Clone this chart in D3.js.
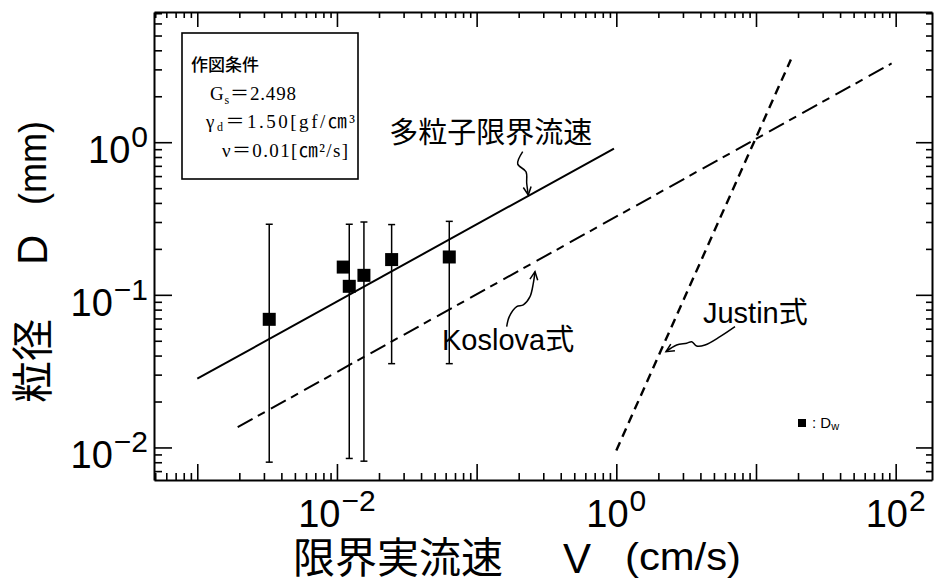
<!DOCTYPE html>
<html>
<head>
<meta charset="utf-8">
<script src="https://cdn.jsdelivr.net/npm/d3@7"></script>
<style>
  body { margin: 0; background: #fff; }
  svg { display: block; }
  text { font-family: "Liberation Sans", "Noto Sans CJK JP", sans-serif; fill: #000; }
  .serif { font-family: "Liberation Serif", "Noto Sans CJK JP", serif; }
  .cjk { font-family: "Noto Sans CJK JP", sans-serif; }
</style>
</head>
<body>
<svg id="chart" width="934" height="583"></svg>
<script>
// ---- measured data: critical velocity V (cm/s) vs grain size Dw (mm) ----
const pointV    = [0.003275, 0.01109, 0.01225, 0.0156, 0.02463, 0.0637];
const pointD    = [0.0691,   0.152,   0.1137,  0.1342, 0.1702,  0.177];
const pointDmax = [0.290,    null,    0.290,   0.300,  0.2886,  0.303];
const pointDmin = [0.00801,  null,    0.00847, 0.00813, 0.0354, 0.0354];

// ---- reference curves (end points, V in cm/s, D in mm) ----
const multiV   = [0.001, 0.962];
const multiD   = [0.0282, 0.909];
const koslovaV = [0.001947, 93.5];
const koslovaD = [0.01358, 3.28];
const justinV  = [1.0, 17.78];
const justinD  = [0.00956, 3.485];

// ---- annotations: label and the point its leader arrow points at ----
const noteText = ["多粒子限界流速", "Koslova式", "Justin式"];
const noteV    = [0.2344, 0.2617, 2.268];
const noteD    = [0.4509, 0.1418, 0.0424];

// ---- axes ----
const xDomain = [0.00049, 182];
const yDomain = [0.00612, 7.13];
const xLabelExp = [-2, 0, 2];
const yLabelExp = [-2, -1, 0];

// ---- conditions box ----
const condTitle = "作図条件";

// ------------------------------------------------------------------
const svg = d3.select("#chart");
const plot = { left: 154, right: 932, top: 12, bottom: 480 };

const x = d3.scaleLog().domain(xDomain).range([plot.left, plot.right]);
const y = d3.scaleLog().domain(yDomain).range([plot.bottom, plot.top]);

const isMajor = v => Math.abs(Math.log10(v) - Math.round(Math.log10(v))) < 1e-9;

// frame: four axes, all ticks pointing inward
function frameAxis(gen, transform, attr, sign, minor, major) {
  const g = svg.append("g").attr("transform", transform)
    .call(gen.tickSize(-minor).tickSizeOuter(0).tickFormat(""));
  g.select(".domain").attr("stroke", "#000").attr("stroke-width", 2);
  g.selectAll(".tick line").attr("stroke", "#000").attr("stroke-width", 1.6)
    .attr(attr, d => sign * (isMajor(d) ? major : minor));
  g.selectAll(".tick text").remove();
  return g;
}
const xt = x.ticks(), yt = y.ticks();
frameAxis(d3.axisBottom(x).tickValues(xt), `translate(0,${plot.bottom})`, "y2", -1, 7, 16);
frameAxis(d3.axisTop(x).tickValues(xt), `translate(0,${plot.top})`, "y2", 1, 6, 15);
frameAxis(d3.axisLeft(y).tickValues(yt), `translate(${plot.left},0)`, "x2", 1, 8, 18);
frameAxis(d3.axisRight(y).tickValues(yt), `translate(${plot.right},0)`, "x2", -1, 6, 16);

// power-of-ten tick labels
function powLabel(sel, exp) {
  sel.append("tspan").attr("font-size", 38).text("10");
  sel.append("tspan").attr("font-size", 30).attr("dy", -16).attr("dx", 1)
    .text(exp < 0 ? "\u2212" + (-exp) : String(exp));
}
xLabelExp.forEach(e => {
  svg.append("text").attr("x", x(Math.pow(10, e))).attr("y", 527)
    .attr("text-anchor", "middle").call(powLabel, e);
});
yLabelExp.forEach(e => {
  svg.append("text").attr("x", 148).attr("y", y(Math.pow(10, e)) + 21)
    .attr("text-anchor", "end").call(powLabel, e);
});

// axis titles
const xTitle = svg.append("g").attr("transform", "translate(293,573)");
xTitle.append("text").attr("class", "cjk").attr("font-size", 42).text("限界実流速");
xTitle.append("text").attr("x", 270).attr("font-size", 42).text("V");
xTitle.append("text").attr("x", 332).attr("y", -3).attr("font-size", 38)
  .attr("textLength", 116).attr("lengthAdjust", "spacingAndGlyphs").text("(cm/s)");

const yTitle = svg.append("g").attr("transform", "translate(48,402) rotate(-90)");
yTitle.append("text").attr("class", "cjk").attr("x", -1).attr("font-size", 42).text("粒径");
yTitle.append("text").attr("x", 137).attr("y", -1).attr("font-size", 42).text("D");
yTitle.append("text").attr("x", 197).attr("y", -2).attr("font-size", 39)
  .attr("textLength", 84).attr("lengthAdjust", "spacingAndGlyphs").text("(mm)");

// curves
const line = d3.line().x(p => x(p[0])).y(p => y(p[1]));
svg.append("path").attr("d", line(d3.zip(multiV, multiD)))
  .attr("fill", "none").attr("stroke", "#000").attr("stroke-width", 2);
svg.append("path").attr("d", line(d3.zip(koslovaV, koslovaD)))
  .attr("fill", "none").attr("stroke", "#000").attr("stroke-width", 2)
  .attr("stroke-dasharray", "17,6,8,7");
svg.append("path").attr("d", line(d3.zip(justinV, justinD)))
  .attr("fill", "none").attr("stroke", "#000").attr("stroke-width", 2.4)
  .attr("stroke-dasharray", "9,6");

// error bars
const bars = svg.append("g").attr("stroke", "#000").attr("stroke-width", 1.5);
pointV.forEach((v, i) => {
  if (pointDmax[i] == null) return;
  const cx = x(v), y1 = y(pointDmax[i]), y0 = y(pointDmin[i]);
  bars.append("line").attr("x1", cx).attr("x2", cx).attr("y1", y1).attr("y2", y0);
  bars.append("line").attr("x1", cx - 3.5).attr("x2", cx + 3.5).attr("y1", y1).attr("y2", y1);
  bars.append("line").attr("x1", cx - 3.5).attr("x2", cx + 3.5).attr("y1", y0).attr("y2", y0);
});

// data squares
svg.append("g").selectAll("rect").data(d3.zip(pointV, pointD)).join("rect")
  .attr("x", d => x(d[0]) - 6.5).attr("y", d => y(d[1]) - 6.5)
  .attr("width", 13).attr("height", 13).attr("fill", "#000");

// hand-drawn style leader arrows and labels
const leaderShapes = [
  [[-5.6, -43.3], [-10.6, -31], [-2.3, -23.3], [-1.6, -11.7], [0, 0]],
  [[-28.3, 55], [-25.7, 45], [-18.3, 35], [-11.7, 33.3], [-5, 25], [-1.7, 11.7], [0, 0]],
  [[69, -25], [54, -15], [39, -6.7], [30.7, -5.7], [25.7, -10], [20.7, -8.4], [10.7, -6.7], [0, 0]]
];
const labelOffsets = [[-139, -52], [-93, 78], [37, -29]];
const curvy = d3.line().curve(d3.curveCatmullRom.alpha(0.5));
noteText.forEach((t, i) => {
  const tx = x(noteV[i]), ty = y(noteD[i]);
  const pts = leaderShapes[i].map(p => [tx + p[0], ty + p[1]]);
  svg.append("path").attr("d", curvy(pts)).attr("fill", "none")
    .attr("stroke", "#000").attr("stroke-width", 1.5);
  const prev = pts[pts.length - 2];
  const ang = Math.atan2(prev[1] - ty, prev[0] - tx);
  const arm = a => [tx + 9 * Math.cos(ang + a), ty + 9 * Math.sin(ang + a)];
  const a1 = arm(0.45), a2 = arm(-0.45);
  svg.append("path").attr("d", `M${a1[0]},${a1[1]}L${tx},${ty}L${a2[0]},${a2[1]}`)
    .attr("fill", "none").attr("stroke", "#000").attr("stroke-width", 1.5);
  svg.append("text").attr("x", tx + labelOffsets[i][0]).attr("y", ty + labelOffsets[i][1])
    .attr("font-size", 29).text(t);
});

// conditions box
const box = svg.append("g").attr("transform", `translate(${plot.left + 28},${plot.top + 21})`);
box.append("rect").attr("width", 176).attr("height", 146)
  .attr("fill", "#fff").attr("stroke", "#000").attr("stroke-width", 1.6);
box.append("text").attr("class", "cjk").attr("x", 9).attr("y", 38).attr("font-size", 17)
  .attr("font-weight", 500).text(condTitle);
const l2 = box.append("text").attr("class", "serif").attr("x", 28).attr("y", 67).attr("font-size", 19)
  .attr("textLength", 86).attr("lengthAdjust", "spacing");
l2.append("tspan").text("G");
l2.append("tspan").attr("font-size", 12).attr("dy", 4).text("s");
l2.append("tspan").attr("dy", -4).text("＝2.498");
const l3 = box.append("text").attr("class", "serif").attr("x", 24).attr("y", 95).attr("font-size", 19)
  .attr("textLength", 149).attr("lengthAdjust", "spacing");
l3.append("tspan").text("γ");
l3.append("tspan").attr("font-size", 12).attr("dy", 3).text("d");
l3.append("tspan").attr("dy", -3).text("＝1.50[gf/㎝³");
const l4 = box.append("text").attr("class", "serif").attr("x", 40).attr("y", 124).attr("font-size", 19)
  .attr("textLength", 126).attr("lengthAdjust", "spacing");
l4.append("tspan").text("ν");
l4.append("tspan").text("＝0.01[㎝²/s]");

// legend
const lg = svg.append("g").attr("transform", `translate(${plot.left + 648},${plot.top + 411})`);
lg.append("rect").attr("x", -4).attr("y", -4).attr("width", 8).attr("height", 8).attr("fill", "#000");
const lt = lg.append("text").attr("x", 10).attr("y", 5).attr("font-size", 15);
lt.append("tspan").text(": D");
lt.append("tspan").attr("font-size", 11).attr("dy", 2).text("w");
</script>
</body>
</html>
